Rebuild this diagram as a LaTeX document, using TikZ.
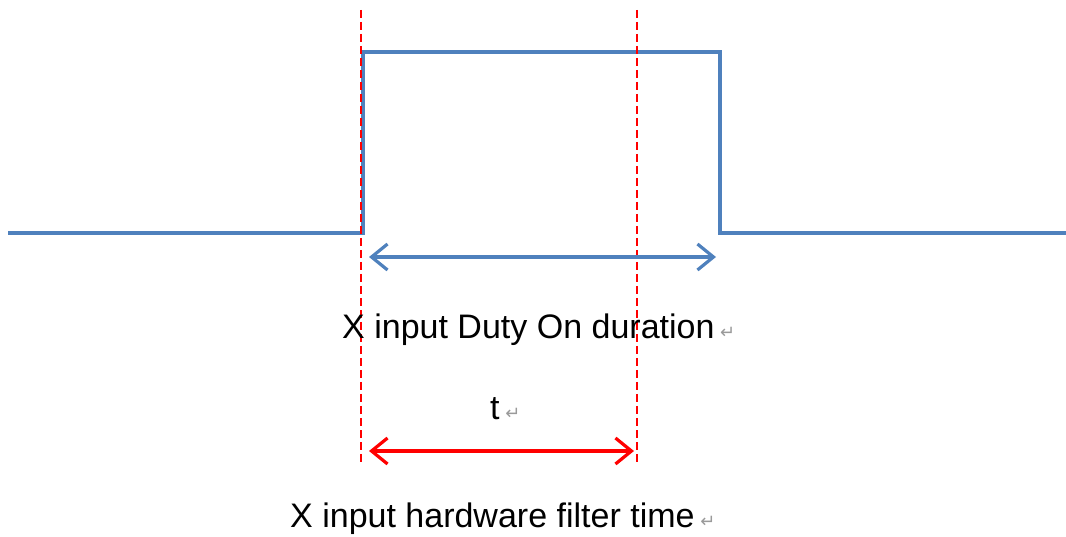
\documentclass[tikz,border=0pt]{standalone}
\usepackage{fontspec}
\setmainfont{Liberation Sans}
\newfontfamily\symfont{DejaVu Sans}
\usepackage{xcolor}
\definecolor{sigblue}{HTML}{4F81BD}
\definecolor{markred}{HTML}{FF0000}
\definecolor{retgray}{HTML}{9A9A9A}
\usetikzlibrary{arrows.meta, positioning}

\newcommand{\retmark}{{\symfont\fontsize{18}{18}\selectfont\textcolor{retgray}{↵}}}

\begin{document}
\begin{tikzpicture}[x=1pt, y=-1pt,
  signal/.style={sigblue, line width=3.2pt},
  cursor/.style={markred, line width=2.6pt, dash pattern=on 8pt off 4pt},
  spanarr/.style={{Straight Barb[length=16pt,width=26pt]}-{Straight Barb[length=16pt,width=26pt]}, line width=3.2pt},
  txt/.style={anchor=base west, inner sep=0pt, font=\fontsize{34}{40}\selectfont},
]
\useasboundingbox (0,0) rectangle (1066,537);

% input pulse
\draw[signal] (8,233) -- (363,233) -- (363,52) -- (720,52) -- (720,233) -- (1066,233);

% filter window edges
\draw[cursor] (361,10) -- (361,462);
\draw[cursor] (637,10) -- (637,462);

\coordinate (dutyL) at (369,257);
\coordinate (dutyR) at (716,257);
\coordinate (filtL) at (369,451);
\coordinate (filtR) at (634,451);

\draw[spanarr, sigblue] (dutyL) -- (dutyR);
\draw[spanarr, markred] (filtL) -- (filtR);

\node[txt] (duty) at (342,339) {X input Duty On duration\,\retmark};
\node[txt] (tlab) at (490,419) {t\,\retmark};
\node[txt] (filt) at (290,527) {X input hardware filter time\,\retmark};

\end{tikzpicture}
\end{document}
